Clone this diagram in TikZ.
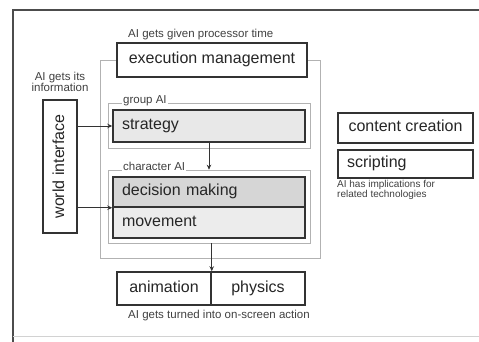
\documentclass[tikz,border=0pt]{standalone}
\usepackage{fontspec}
\setmainfont{Liberation Sans}
\usetikzlibrary{arrows.meta}

\tikzset{
  box/.style = {draw = black!80, line width = 1.5pt, fill = white, inner sep = 0pt, text height = 11.5pt, text depth = 3.5pt, text = black!85, font = \fontsize{16}{18}\selectfont},
  boxl/.style = {box, align = left, inner xsep = 9pt},
  zone/.style = {draw = gray!60, line width = 0.6pt, inner sep = 0pt},
  note/.style = {inner sep = 1pt, text = black!75, font = \fontsize{11.5}{11}\selectfont},
  flow/.style = {draw = black!80, line width = 0.9pt, -{Stealth[length = 5pt, width = 4.5pt]}}
}

\begin{document}
\begin{tikzpicture}[x = 1pt, y = 1pt]
			\useasboundingbox (0,0) rectangle (479,342);
			% marc exterior
			\draw[black!70, line width = 1.3pt] (479,332) -- (13,332) -- (13,0);
			\draw[gray!35, line width = 0.8pt] (13,6) -- (479,6);
			% zona IA
			\node[zone, minimum width = 220pt, minimum height = 198pt] (ai) at (210,183) {};
			\node[box, minimum width = 190pt, minimum height = 34pt] (exec) at (212,282) {execution management};
			\node[note, anchor = west] (given) at (127,307) {AI gets given processor time};
			% IA de grup
			\node[zone, minimum width = 202pt, minimum height = 45pt] (groupai) at (209,216.5) {};
			\node[boxl, fill = gray!18, text width = 174pt, minimum height = 32pt] (strat) at (209,216) {strategy};
			\node[note, anchor = west, fill = white] (grouplbl) at (122,241) {group AI};
			% IA de personatge
			\node[zone, minimum width = 202pt, minimum height = 73pt] (charai) at (209,135.5) {};
			\node[boxl, fill = gray!32, text width = 174pt, minimum height = 30pt] (dm) at (209,150) {decision making};
			\node[boxl, fill = gray!15, text width = 174pt, minimum height = 31pt] (mv) at (209,119.5) {movement};
			\node[note, anchor = west, fill = white] (charlbl) at (122,176) {character AI};
			% interficie amb el mon
			\node[box, rotate = 90, minimum width = 133pt, minimum height = 34pt] (wi) at (60,175.5) {world interface};
			\node[note, align = center] (info) at (60,260) {AI gets its\\information};
			% sortida
			\node[box, minimum width = 94pt, minimum height = 33pt] (anim) at (164,53.5) {animation};
			\node[box, minimum width = 94pt, minimum height = 33pt] (phys) at (258,53.5) {physics};
			\node[note, anchor = west] (action) at (127,26) {AI gets turned into on-screen action};
			% tecnologies relacionades
			\node[box, minimum width = 135pt, minimum height = 30pt] (cc) at (405.5,214) {content creation};
			\node[boxl, text width = 117pt, minimum height = 28pt] (scr) at (405.5,178) {scripting};
			\node[note, anchor = west, align = left, font = \fontsize{10}{10.5}\selectfont] (impl) at (336,152) {AI has implications for\\related technologies};
			% fletxes
			\draw[flow] (wi.south |- strat.west) -- (strat.west);
			\draw[flow] (wi.south |- dm.south west) -- (dm.south west);
			\draw[flow] (strat.south) -- (charai.north);
			\draw[flow] (anim.north east |- charai.south) -- (anim.north east);
\end{tikzpicture}
\end{document}
